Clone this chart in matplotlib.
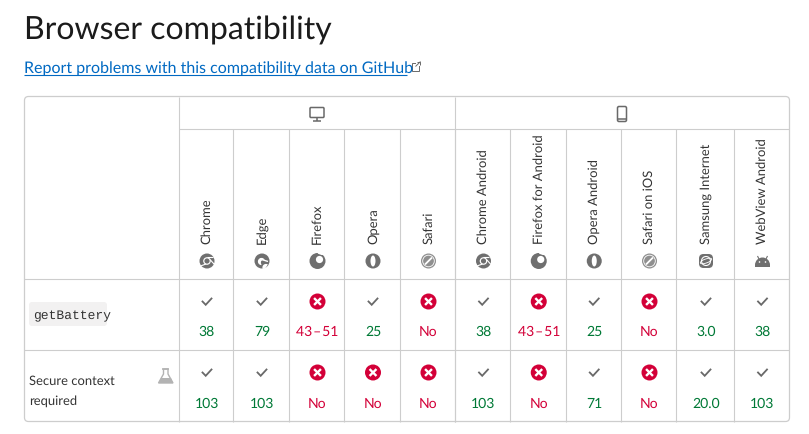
import matplotlib

matplotlib.use("Agg")

import matplotlib.pyplot as plt
from matplotlib.patches import Circle, FancyBboxPatch, Rectangle, Wedge, Ellipse, Polygon

plt.rcParams['font.family'] = ['Lato', 'DejaVu Sans']
plt.rcParams['text.hinting'] = 'no_hinting'
plt.rcParams['text.hinting_factor'] = 1

browsers = ["Chrome", "Edge", "Firefox", "Opera", "Safari", "Chrome Android",
            "Firefox for Android", "Opera Android", "Safari on iOS",
            "Samsung Internet", "WebView Android"]
icons = ["chrome", "edge", "firefox", "opera", "safari", "chrome",
         "firefox", "opera", "safari", "samsung", "android"]
battery_versions = ["38", "79", "43\u200a\u2013\u200a51", "25", "No", "38",
                    "43\u200a\u2013\u200a51", "25", "No", "3.0", "38"]
battery_ok = [1, 1, 0, 1, 0, 1, 0, 1, 0, 1, 1]
secure_versions = ["103", "103", "No", "No", "No", "103", "No", "71", "No", "20.0", "103"]
secure_ok = [1, 1, 0, 0, 0, 1, 0, 1, 0, 1, 1]

col_edges = [179.5, 233.5, 289.5, 344.5, 400.5, 455.5, 510.5, 566, 621.5, 676.5, 734.5, 789.5]
LINE = "#cdcdcd"
GRAY = "#696969"
GREEN = "#007936"
RED = "#d30038"
ICON = "#6f6f6f"
TEXT = "#333333"

fig = plt.figure(figsize=(8.09, 4.35), dpi=100)
ax = fig.add_axes([0, 0, 1, 1])
ax.set_xlim(0, 809)
ax.set_ylim(435, 0)
ax.axis("off")


def line(xs, ys, color=LINE, lw=0.8):
    ax.plot(xs, ys, color=color, lw=lw, solid_capstyle="butt")


def draw_icon(kind, x, y):
    if kind == "chrome":
        ax.add_patch(Circle((x, y), 7.5, color=ICON, lw=0))
        ax.add_patch(Circle((x, y), 3.8, color="white", lw=0))
        ax.add_patch(Circle((x, y), 2.6, color=ICON, lw=0))
        line([x - 1, x - 6.5], [y + 3, y + 5], "white", 0.8)
        line([x + 3, x + 7], [y - 1.5, y + 3], "white", 0.8)
        line([x, x + 6], [y - 3.6, y - 3.6], "white", 0.8)
    elif kind == "edge":
        ax.add_patch(Circle((x, y), 7.5, color=ICON, lw=0))
        ax.add_patch(Wedge((x - 0.5, y + 0.5), 3.6, 90, 330, color="white", lw=0))
        ax.add_patch(Circle((x + 1.5, y + 1.5), 2.6, color=ICON, lw=0))
        ax.add_patch(Wedge((x + 4, y + 6.5), 3.6, 150, 300, color="white", lw=0))
        line([x - 2, x + 6], [y - 2, y + 0.5], "white", 1.0)
    elif kind == "firefox":
        ax.add_patch(Circle((x, y), 8, color=ICON, lw=0))
        ax.add_patch(Circle((x + 2, y - 1.5), 3.6, color="white", lw=0))
        ax.add_patch(Wedge((x + 4, y - 6), 4, 200, 360, color="white", lw=0))
    elif kind == "opera":
        ax.add_patch(Circle((x, y), 7.5, color=ICON, lw=0))
        ax.add_patch(Ellipse((x, y), 5, 11, color="white", lw=0))
    elif kind == "safari":
        ax.add_patch(Circle((x, y), 7.5, color="#8f8f8f", lw=0))
        ax.add_patch(Circle((x, y), 5.8, fill=False, ec="white", lw=0.6))
        line([x - 3.5, x + 3.5], [y + 3.5, y - 3.5], "white", 1.3)
    elif kind == "samsung":
        ax.add_patch(FancyBboxPatch((x - 5, y - 5), 10, 10, boxstyle="round,pad=2,rounding_size=4.5",
                                    color=ICON, lw=0))
        ax.add_patch(Ellipse((x, y), 9, 9, fill=False, ec="white", lw=0.8))
        ax.add_patch(Ellipse((x, y), 12, 4, angle=-20, fill=False, ec="white", lw=0.6))
    elif kind == "android":
        ax.add_patch(Wedge((x, y + 4), 7.5, 180, 360, color=ICON, lw=0))
        ax.add_patch(Rectangle((x - 7.5, y + 3.5), 15, 2, color=ICON, lw=0))
        ax.add_patch(Circle((x - 3, y + 1), 0.8, color="white", lw=0))
        ax.add_patch(Circle((x + 3, y + 1), 0.8, color="white", lw=0))
        line([x - 3.5, x - 5], [y - 2, y - 5], ICON, 0.8)
        line([x + 3.5, x + 5], [y - 2, y - 5], ICON, 0.8)


def draw_status(ok, x, y):
    if ok:
        ax.plot([x - 4.5, x - 1.3, x + 4.5], [y, y + 3.3, y - 3], color=GRAY, lw=1.3,
                solid_joinstyle="miter")
    else:
        ax.add_patch(Circle((x, y), 8, color=RED, lw=0))
        ax.plot([x - 2.6, x + 2.6], [y - 2.6, y + 2.6], color="white", lw=1.7)
        ax.plot([x - 2.6, x + 2.6], [y + 2.6, y - 2.6], color="white", lw=1.7)


# heading and link
ax.text(24, 40, "Browser compatibility", fontsize=22.8, color="#1b1b1b", va="baseline")
ax.text(24, 73, "Report problems with this compatibility data on GitHub",
        fontsize=11.38, color="#0069c2", va="baseline")
line([24, 407], [76, 76], "#0069c2", 0.8)
ax.add_patch(Rectangle((412, 64), 7, 7.5, fill=False, ec=GRAY, lw=0.7))
ax.add_patch(Rectangle((416, 62), 5, 5, color="white", lw=0))
line([415.5, 420.5], [67.5, 62.5], GRAY, 0.7)
line([417.5, 420.5, 420.5], [62.5, 62.5, 65.5], GRAY, 0.7)

# table frame and grid
ax.add_patch(FancyBboxPatch((24.5, 97.5), 765, 325, boxstyle="round,pad=0,rounding_size=4",
                            fill=False, ec=LINE, lw=0.9))
line([179.5, 789.5], [129.5, 129.5])
line([24.5, 789.5], [279.5, 279.5])
line([24.5, 789.5], [350.5, 350.5])
line([179.5, 179.5], [97.5, 422.5])
line([455.5, 455.5], [97.5, 422.5])
for edge in col_edges[1:-1]:
    line([edge, edge], [129.5, 422.5])

# desktop and mobile group icons
ax.add_patch(FancyBboxPatch((310, 108.5), 14, 10, boxstyle="round,pad=0,rounding_size=1",
                            fill=False, ec=GRAY, lw=1.1))
line([317, 317], [118.5, 121.5], GRAY, 1.1)
line([313, 321], [122, 122], GRAY, 1.1)
ax.add_patch(FancyBboxPatch((617.5, 107.5), 9, 15, boxstyle="round,pad=0,rounding_size=1.5",
                            fill=False, ec=GRAY, lw=1.1))
line([617.5, 626.5], [119.5, 119.5], GRAY, 1.1)

# browser columns
for i, name in enumerate(browsers):
    x = (col_edges[i] + col_edges[i + 1]) / 2 + 0.5
    ax.text(x, 244.5, name, rotation=90, ha="center", va="bottom", fontsize=9.45, color=TEXT)
    draw_icon(icons[i], x, 262)
    draw_status(battery_ok[i], x, 302.5)
    ax.text(x, 332, battery_versions[i], ha="center", va="center", fontsize=10,
            color=GREEN if battery_ok[i] else RED)
    draw_status(secure_ok[i], x, 373.5)
    ax.text(x, 404, secure_versions[i], ha="center", va="center", fontsize=10,
            color=GREEN if secure_ok[i] else RED)

# row labels
ax.add_patch(FancyBboxPatch((29, 303), 78, 24, boxstyle="round,pad=0,rounding_size=3",
                            color="#f2f1f1", lw=0))
ax.text(33, 316, "getBattery", family="Liberation Mono", fontsize=9.6, color=TEXT,
        va="center")
ax.text(29.5, 381, "Secure context", fontsize=9.35, color=TEXT, va="center")
ax.text(29.5, 401, "required", fontsize=9.35, color=TEXT, va="center")

# experimental flask
ax.add_patch(Polygon([(163.5, 370), (168, 370), (168, 375), (173, 384), (158.5, 384), (163.5, 375)],
                     closed=True, fill=False, ec="#b3b3b3", lw=1))
ax.add_patch(Polygon([(161, 379), (171, 379), (173, 384), (158.5, 384)], closed=True,
                     color="#b3b3b3", lw=0))
line([162, 169.5], [370, 370], "#b3b3b3", 1.2)

fig.savefig("out.png", dpi=100)
